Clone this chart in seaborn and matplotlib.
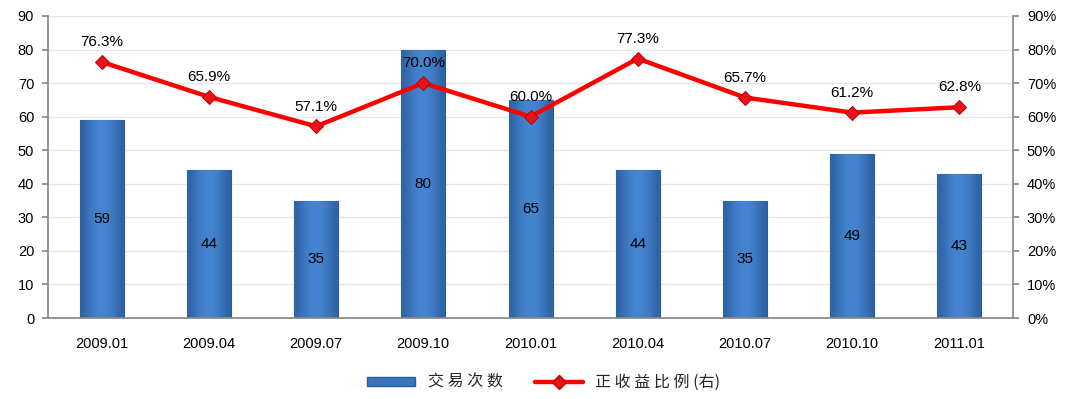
import numpy as np
import pandas as pd
import seaborn as sns
import matplotlib.pyplot as plt
from matplotlib.colors import LinearSegmentedColormap
from matplotlib.lines import Line2D
from matplotlib.patches import Patch

periods = ["2009.01", "2009.04", "2009.07", "2009.10", "2010.01",
           "2010.04", "2010.07", "2010.10", "2011.01"]
trades = [59, 44, 35, 80, 65, 44, 35, 49, 43]
win_ratio = [76.3, 65.9, 57.1, 70.0, 60.0, 77.3, 65.7, 61.2, 62.8]

sns.set_theme(style="white")
plt.rcParams['font.family'] = ['Liberation Sans', 'Noto Sans CJK SC', 'DejaVu Sans']

df = pd.DataFrame({"period": periods, "trades": trades, "ratio": win_ratio})

fig = plt.figure(figsize=(10.77, 3.99), dpi=100)
ax = fig.add_axes([0.0446, 0.203, 0.896, 0.757])

sns.barplot(data=df, x="period", y="trades", ax=ax, color="#3a74bd",
            width=0.41, saturation=1, edgecolor="#2a5c9c", linewidth=0.8)

# soft gradient on bars
cmap = LinearSegmentedColormap.from_list("b", ["#2f63a6", "#4584d0"])
for bar in ax.patches:
    x0, y0 = bar.get_x(), bar.get_y()
    w, h = bar.get_width(), bar.get_height()
    grad = np.array([[0.0, 0.7, 1.0, 1.0, 0.7, 0.0]])
    im = ax.imshow(grad, extent=[x0, x0 + w, y0, y0 + h], aspect="auto",
                   cmap=cmap, zorder=2, interpolation="bicubic")
    im.set_clip_path(bar)

for i, v in enumerate(trades):
    ax.text(i, v / 2, str(v), ha="center", va="center", fontsize=11, color="black", zorder=5)

ax.set_ylim(0, 90)
ax.set_yticks(range(0, 91, 10))
ax.set_xlim(-0.5, 8.5)
ax.set_xlabel("")
ax.set_ylabel("")
ax.yaxis.grid(True, color="#e6e6ee", linewidth=1)
ax.set_axisbelow(True)
ax.tick_params(axis="both", labelsize=10.5, colors="black", length=0)
ax.tick_params(axis="x", pad=14)
ax.set_xticks(np.arange(9))
ax.set_xticks(np.arange(-0.5, 9, 1), minor=True)
ax.tick_params(axis="x", which="minor", length=4, color="#888888", direction="out")
ax.tick_params(axis="y", length=4, color="#888888", direction="out", pad=6)
for s in ["left", "bottom"]:
    ax.spines[s].set_color("#888888")
ax.spines["top"].set_visible(False)
ax.spines["right"].set_visible(False)

ax2 = ax.twinx()
sns.lineplot(x=np.arange(9), y=win_ratio, ax=ax2, color="#ff0000", linewidth=3.2,
             marker="D", markersize=7, markerfacecolor="#e8141c",
             markeredgecolor="#c00000", zorder=6)
for i, v in enumerate(win_ratio):
    ax2.text(i, v + 3.8, f"{v:.1f}%", ha="center", va="bottom", fontsize=11, color="black")
ax2.set_ylim(0, 90)
ax2.set_yticks(range(0, 91, 10))
ax2.set_yticklabels([f"{t}%" for t in range(0, 91, 10)])
ax2.tick_params(axis="y", labelsize=10.5, colors="black", length=4, direction="out", pad=6)
ax2.tick_params(axis="y", color="#888888")
ax2.spines["right"].set_color("#888888")
ax2.spines["left"].set_visible(False)
ax2.spines["top"].set_visible(False)
ax2.spines["bottom"].set_visible(False)

handles = [Patch(facecolor="#3a74bd", edgecolor="#2a5c9c"),
           Line2D([], [], color="#ff0000", linewidth=3.2, marker="D", markersize=7,
                  markerfacecolor="#e8141c", markeredgecolor="#c00000")]
fig.legend(handles, ["交 易 次 数", "正 收 益 比 例 (右)"], loc="center",
           bbox_to_anchor=(0.505, 0.042), ncol=2, frameon=False,
           handlelength=3.0, handleheight=0.5, columnspacing=2.0,
           prop={"family": ["Noto Sans CJK SC", "DejaVu Sans"], "size": 11.5})

fig.savefig("out.png", dpi=100)
